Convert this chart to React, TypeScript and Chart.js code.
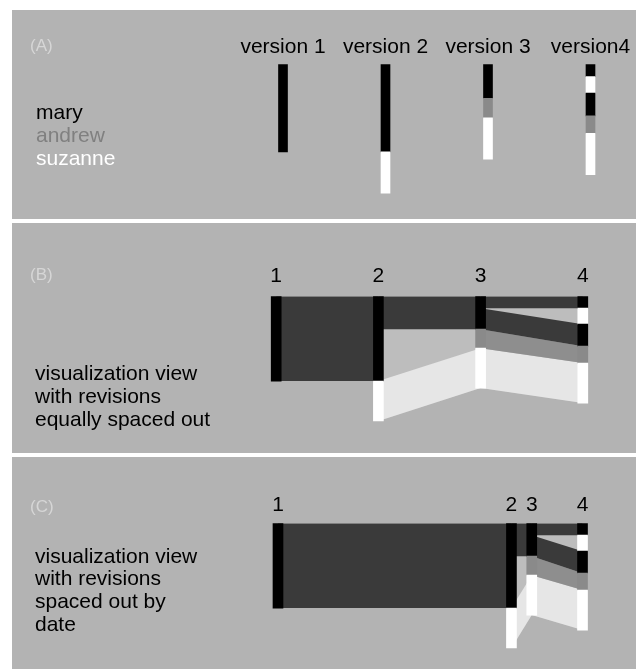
import React, { useEffect, useRef } from 'react';
import { Chart, registerables } from 'chart.js';

Chart.register(...registerables);

// ---------------- data ----------------
const versionLabels = ['version 1', 'version 2', 'version 3', 'version4'];
const revisionLabels = ['1', '2', '3', '4'];
const revisionIndex = [1, 2, 3, 4];
const revisionDays = [0, 46, 50, 60];
const authors = ['mary', 'andrew', 'suzanne'];
const authorBarColors = ['#000000', '#8a8a8a', '#ffffff'];
const authorFlowColors = ['#3a3a3a', '#8e8e8e', '#e6e6e6'];
const authorTextColors = ['#000000', '#808080', '#ffffff'];
// text segments of each version: author index and length (lines)
const segmentAuthors = [[0], [0, 2], [0, 1, 2], [0, 2, 0, 1, 2]];
const segmentLengths = [[85], [85, 40], [33, 19, 40], [12, 16, 22, 17, 40]];
// surviving text: [fromVersion, fromStart, fromEnd, toStart, toEnd, author]
const flowLinks = [
  [0, 0, 85, 0, 85, 0],
  [1, 0, 33, 0, 33, 0],
  [1, 85, 125, 52, 92, 2],
  [2, 0, 12, 0, 12, 0],
  [2, 12, 33, 28, 50, 0],
  [2, 33, 52, 50, 67, 1],
  [2, 52, 92, 67, 107, 2],
];
const panelLabels = ['(A)', '(B)', '(C)'];
const descriptionB = ['visualization view', 'with revisions', 'equally spaced out'];
const descriptionC = ['visualization view', 'with revisions', 'spaced out by', 'date'];

// ---------------- styling ----------------
const FONT = '"Liberation Sans", Arial, Helvetica, sans-serif';
const TEXT_SIZE = 21;
const PANEL_BG = '#b3b3b3';
const GAP_COLOR = '#bdbdbd';
const PANEL_LABEL_COLOR = '#d6d6d6';

function cumulative(lengths: number[]) {
  const out: number[][] = [];
  let acc = 0;
  for (const l of lengths) {
    out.push([acc, acc + l]);
    acc += l;
  }
  return out;
}

function buildBarDataset(xs: number[], thickness: number) {
  const data: any[] = [];
  const colors: string[] = [];
  segmentLengths.forEach((lens, v) => {
    cumulative(lens).forEach(([s, e], k) => {
      data.push({ x: xs[v], y: [s, e] });
      colors.push(authorBarColors[segmentAuthors[v][k]]);
    });
  });
  return {
    type: 'bar',
    data,
    backgroundColor: colors,
    borderWidth: 0,
    barThickness: thickness,
    order: 0,
  };
}

function lineDs(data: any[], fill: any, color: string, order: number) {
  return {
    type: 'line',
    data,
    fill,
    backgroundColor: color,
    borderColor: 'transparent',
    borderWidth: 0,
    pointRadius: 0,
    tension: 0,
    order,
  };
}

function buildFlowDatasets(xs: number[]) {
  const ds: any[] = [];
  const base = 1; // bar dataset is index 0
  for (let v = 0; v < xs.length - 1; v++) {
    const links = flowLinks.filter((f) => f[0] === v);
    if (links.length < 2) continue;
    const fromTop = Math.min(...links.map((f) => f[1]));
    const fromBot = Math.max(...links.map((f) => f[2]));
    const toTop = Math.min(...links.map((f) => f[3]));
    const toBot = Math.max(...links.map((f) => f[4]));
    const topIdx = base + ds.length;
    ds.push(lineDs([{ x: xs[v], y: fromTop }, { x: xs[v + 1], y: toTop }], false, 'transparent', 2));
    ds.push(lineDs([{ x: xs[v], y: fromBot }, { x: xs[v + 1], y: toBot }], topIdx, GAP_COLOR, 2));
  }
  flowLinks.forEach(([v, fs, fe, ts, te, a]) => {
    const topIdx = base + ds.length;
    ds.push(lineDs([{ x: xs[v], y: fs }, { x: xs[v + 1], y: ts }], false, 'transparent', 1));
    ds.push(lineDs([{ x: xs[v], y: fe }, { x: xs[v + 1], y: te }], topIdx, authorFlowColors[a], 1));
  });
  return ds;
}

type TextItem = { text: string; x: number; y: number; color: string; size: number };

function makeChart(
  canvas: HTMLCanvasElement,
  cfg: {
    xs: number[];
    labels: string[];
    xMin: number;
    xMax: number;
    yMax: number;
    padTop: number;
    tickPad: number;
    barThickness: number;
    flows: boolean;
    texts: TextItem[];
  }
) {
  const datasets: any[] = [buildBarDataset(cfg.xs, cfg.barThickness)];
  if (cfg.flows) datasets.push(...buildFlowDatasets(cfg.xs));

  const bgPlugin = {
    id: 'panelBg',
    beforeDraw(chart: any) {
      const { ctx, width, height } = chart;
      ctx.save();
      ctx.fillStyle = PANEL_BG;
      ctx.fillRect(0, 0, width, height);
      ctx.restore();
    },
  };
  const textPlugin = {
    id: 'panelText',
    afterDraw(chart: any) {
      const { ctx } = chart;
      ctx.save();
      ctx.textBaseline = 'middle';
      ctx.textAlign = 'left';
      for (const t of cfg.texts) {
        ctx.font = `${t.size}px ${FONT}`;
        ctx.fillStyle = t.color;
        ctx.fillText(t.text, t.x, t.y);
      }
      ctx.restore();
    },
  };

  return new Chart(canvas, {
    type: 'bar',
    data: { datasets },
    options: {
      animation: false,
      responsive: false,
      events: [],
      layout: { padding: { top: cfg.padTop, left: 0, right: 0, bottom: 0 } },
      plugins: { legend: { display: false }, tooltip: { enabled: false } },
      scales: {
        x: {
          type: 'linear',
          position: 'top',
          min: cfg.xMin,
          max: cfg.xMax,
          offset: false,
          grid: { display: false, drawTicks: false },
          border: { display: false },
          afterBuildTicks: (scale: any) => {
            scale.ticks = cfg.xs.map((v) => ({ value: v }));
          },
          ticks: {
            autoSkip: false,
            maxRotation: 0,
            minRotation: 0,
            padding: cfg.tickPad,
            color: '#000000',
            font: { family: FONT, size: TEXT_SIZE },
            callback: (_v: any, i: number) => cfg.labels[i],
          },
        },
        y: { type: 'linear', display: false, reverse: true, min: 0, max: cfg.yMax },
      },
    } as any,
    plugins: [bgPlugin, textPlugin],
  });
}

const W = 624;

export default function App() {
  const refA = useRef<HTMLCanvasElement>(null);
  const refB = useRef<HTMLCanvasElement>(null);
  const refC = useRef<HTMLCanvasElement>(null);

  useEffect(() => {
    const textsA: TextItem[] = [
      { text: panelLabels[0], x: 18, y: 36, color: PANEL_LABEL_COLOR, size: 17 },
      ...authors.map((a, i) => ({ text: a, x: 24, y: 103 + i * 23, color: authorTextColors[i], size: TEXT_SIZE })),
    ];
    const textsB: TextItem[] = [
      { text: panelLabels[1], x: 18, y: 52, color: PANEL_LABEL_COLOR, size: 17 },
      ...descriptionB.map((t, i) => ({ text: t, x: 23, y: 151 + i * 23, color: '#000000', size: TEXT_SIZE })),
    ];
    const textsC: TextItem[] = [
      { text: panelLabels[2], x: 18, y: 50, color: PANEL_LABEL_COLOR, size: 17 },
      ...descriptionC.map((t, i) => ({ text: t, x: 23, y: 100 + i * 22.7, color: '#000000', size: TEXT_SIZE })),
    ];

    const a = makeChart(refA.current!, {
      xs: revisionIndex,
      labels: versionLabels,
      xMin: -1.644,
      xMax: 4.444,
      yMax: 150,
      padTop: 21,
      tickPad: 4,
      barThickness: 9,
      flows: false,
      texts: textsA,
    });
    const b = makeChart(refB.current!, {
      xs: revisionIndex,
      labels: revisionLabels,
      xMin: -1.585,
      xMax: 4.5205,
      yMax: 157,
      padTop: 34,
      tickPad: 7,
      barThickness: 10,
      flows: true,
      texts: textsB,
    });
    const c = makeChart(refC.current!, {
      xs: revisionDays,
      labels: revisionLabels,
      xMin: -52.41,
      xMax: 70.54,
      yMax: 146,
      padTop: 31,
      tickPad: 5,
      barThickness: 10,
      flows: true,
      texts: textsC,
    });
    return () => {
      a.destroy();
      b.destroy();
      c.destroy();
    };
  }, []);

  const canvasStyle = (top: number, h: number): React.CSSProperties => ({
    position: 'absolute',
    left: 12,
    top,
    width: W,
    height: h,
    display: 'block',
  });

  return (
    <div style={{ position: 'absolute', left: 0, top: 0, width: 637, height: 669, background: '#ffffff', overflow: 'hidden' }}>
      <canvas ref={refA} width={W} height={209} style={canvasStyle(10, 209)} />
      <canvas ref={refB} width={W} height={230} style={canvasStyle(223, 230)} />
      <canvas ref={refC} width={W} height={212} style={canvasStyle(457, 212)} />
    </div>
  );
}
